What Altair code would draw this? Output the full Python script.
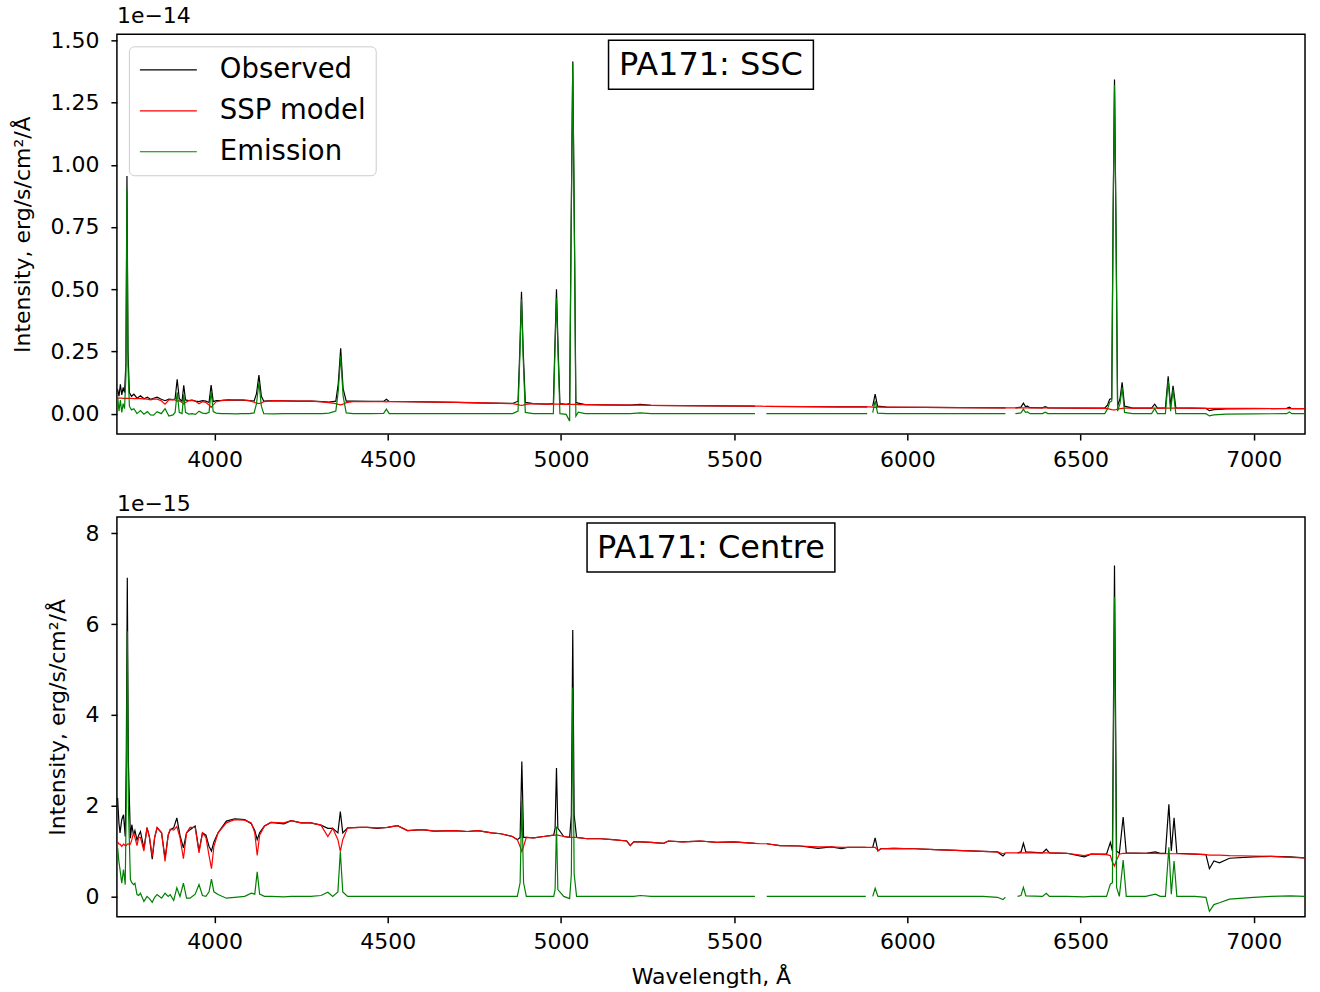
import altair as alt
import pandas as pd

# ---------------- data (top panel, units of 1e-14) ----------------
W_TOP = [3720, 3724, 3728, 3732, 3736, 3740, 3744, 3747, 3750, 3754, 3760, 3767, 3776, 3786,
         3796, 3806, 3815, 3824, 3834, 3846, 3857, 3868, 3880, 3886, 3892, 3898, 3906, 3911,
         3916, 3925, 3935, 3945, 3955, 3965, 3975, 3984, 3990, 3996, 4005, 4020, 4040, 4060,
         4080, 4100, 4114, 4121, 4128, 4135, 4142, 4170, 4200, 4240, 4280, 4310, 4330, 4350,
         4357, 4364, 4371, 4380, 4400, 4450, 4488, 4496, 4504, 4550, 4600, 4650, 4700, 4750,
         4800, 4860, 4876, 4881, 4886, 4891, 4897, 4920, 4960, 4978, 4982, 4987, 4992, 4997,
         5015, 5025, 5029, 5034, 5039, 5043, 5050, 5070, 5120, 5200, 5229, 5260, 5350, 5450,
         5560, 5576, 5593, 5700, 5800, 5884, 5892, 5900, 5907, 5914, 5940, 6050, 6150, 6283,
         6298, 6312, 6328, 6335, 6341, 6347, 6354, 6390, 6398, 6406, 6500, 6570, 6578, 6584,
         6590, 6594, 6598, 6602, 6607, 6614, 6620, 6627, 6650, 6705, 6714, 6722, 6745, 6753,
         6760, 6767, 6775, 6820, 6862, 6872, 6885, 6920, 7000, 7095, 7103, 7110, 7147]
OBS_TOP = [0.098, 0.070, 0.118, 0.075, 0.105, 0.085, 0.200, 0.955, 0.250, 0.085, 0.070, 0.078, 0.062, 0.072,
           0.060, 0.066, 0.058, 0.062, 0.066, 0.058, 0.052, 0.058, 0.056, 0.060, 0.138, 0.060, 0.050, 0.114,
           0.055, 0.052, 0.054, 0.050, 0.048, 0.052, 0.050, 0.045, 0.115, 0.048, 0.052, 0.053, 0.055, 0.054,
           0.054, 0.052, 0.050, 0.080, 0.155, 0.070, 0.050, 0.052, 0.051, 0.050, 0.050, 0.048, 0.046, 0.050,
           0.120, 0.263, 0.100, 0.050, 0.050, 0.049, 0.049, 0.058, 0.049, 0.048, 0.047, 0.046, 0.045, 0.043,
           0.042, 0.041, 0.050, 0.250, 0.490, 0.250, 0.045, 0.040, 0.038, 0.040, 0.250, 0.500, 0.250, 0.040,
           0.037, 0.040, 0.700, 1.415, 0.700, 0.045, 0.042, 0.036, 0.035, 0.034, 0.037, 0.033, 0.032, 0.031,
           0.030, None, 0.029, 0.028, 0.027, 0.027, None, 0.030, 0.078, 0.030, 0.026, 0.025, 0.024, 0.023,
           None, 0.023, 0.026, 0.042, 0.028, 0.030, 0.024, 0.023, 0.028, 0.023, 0.022, 0.022, 0.035, 0.058,
           0.060, 0.800, 1.343, 0.800, 0.030, 0.060, 0.126, 0.030, 0.022, 0.022, 0.038, 0.022, 0.023, 0.150,
           0.030, 0.112, 0.023, 0.022, 0.021, 0.012, 0.016, 0.019, 0.020, 0.021, 0.026, 0.020, 0.020]
MOD_TOP = [0.062, 0.062, 0.062, 0.062, 0.061, 0.061, 0.061, 0.061, 0.061, 0.061, 0.061, 0.060, 0.060, 0.060,
           0.059, 0.058, 0.055, 0.058, 0.058, 0.052, 0.038, 0.055, 0.056, 0.055, 0.050, 0.052, 0.045, 0.038,
           0.045, 0.052, 0.053, 0.050, 0.040, 0.048, 0.045, 0.035, 0.025, 0.035, 0.048, 0.052, 0.054, 0.055,
           0.055, 0.052, 0.046, 0.042, 0.040, 0.043, 0.048, 0.052, 0.051, 0.050, 0.050, 0.047, 0.044, 0.040,
           0.037, 0.035, 0.038, 0.044, 0.048, 0.048, 0.048, 0.047, 0.048, 0.048, 0.047, 0.046, 0.045, 0.044,
           0.042, 0.040, 0.036, 0.034, 0.033, 0.034, 0.037, 0.040, 0.038, 0.038, 0.038, 0.038, 0.038, 0.037,
           0.037, 0.037, 0.037, 0.037, 0.037, 0.037, 0.036, 0.036, 0.035, 0.034, 0.034, 0.033, 0.032, 0.031,
           0.030, 0.030, 0.029, 0.028, 0.027, 0.027, 0.027, 0.026, 0.025, 0.026, 0.026, 0.025, 0.024, 0.023,
           0.023, 0.023, 0.023, 0.023, 0.023, 0.023, 0.023, 0.023, 0.023, 0.023, 0.022, 0.021, 0.020, 0.018,
           0.016, 0.015, 0.015, 0.016, 0.018, 0.020, 0.021, 0.022, 0.022, 0.022, 0.022, 0.022, 0.022, 0.022,
           0.022, 0.022, 0.022, 0.022, 0.021, 0.021, 0.021, 0.021, 0.021, 0.020, 0.020, 0.020, 0.020]
EMI_TOP = [0.070, 0.010, 0.055, 0.005, 0.040, 0.020, 0.150, 0.900, 0.190, 0.030, 0.015, 0.020, 0.000, 0.012,
           -0.002, 0.008, -0.005, -0.006, 0.008, 0.000, 0.020, -0.010, -0.005, 0.005, 0.086, 0.005, 0.000, 0.078,
           0.005, -0.002, 0.000, -0.003, 0.010, 0.002, 0.000, 0.005, 0.090, 0.008, 0.002, 0.000, 0.000, -0.001,
           0.000, 0.000, 0.003, 0.040, 0.126, 0.030, 0.000, -0.001, 0.000, 0.000, 0.000, 0.000, 0.002, 0.010,
           0.090, 0.232, 0.070, 0.003, 0.000, 0.000, 0.001, 0.018, 0.000, 0.000, 0.000, 0.000, 0.000, 0.000,
           0.000, 0.000, 0.010, 0.220, 0.460, 0.220, 0.005, 0.000, 0.000, 0.000, 0.220, 0.465, 0.220, 0.000,
           -0.003, -0.030, 0.680, 1.410, 0.680, -0.010, 0.006, 0.000, 0.000, 0.000, 0.003, 0.000, 0.000, 0.000,
           0.000, None, 0.000, 0.000, 0.000, 0.000, None, 0.004, 0.051, 0.002, 0.000, 0.000, 0.000, 0.000,
           None, 0.000, 0.003, 0.018, 0.005, 0.007, 0.000, 0.000, 0.006, 0.000, 0.000, 0.000, 0.020, 0.046,
           0.050, 0.780, 1.320, 0.780, 0.010, 0.040, 0.106, 0.005, 0.000, 0.000, 0.020, 0.000, 0.000, 0.132,
           0.010, 0.098, 0.000, 0.000, 0.000, -0.009, -0.005, -0.002, -0.001, 0.000, 0.007, 0.000, 0.000]

# ---------------- data (bottom panel, units of 1e-15) ----------------
W_BOT = [3720, 3724, 3727, 3732, 3737, 3742, 3745, 3748, 3751, 3757, 3761, 3766, 3770, 3776,
         3781, 3786, 3796, 3805, 3812, 3820, 3827, 3834, 3847, 3857, 3866, 3872, 3882, 3891,
         3900, 3910, 3919, 3929, 3944, 3955, 3965, 3975, 3984, 3991, 3998, 4010, 4034, 4058,
         4087, 4106, 4116, 4123, 4130, 4144, 4163, 4200, 4221, 4250, 4278, 4307, 4327, 4341,
         4356, 4363, 4370, 4384, 4420, 4442, 4470, 4499, 4528, 4557, 4600, 4634, 4691, 4730,
         4760, 4800, 4826, 4860, 4874, 4882, 4887, 4892, 4900, 4921, 4950, 4979, 4983, 4987,
         4991, 5008, 5025, 5030, 5034, 5038, 5045, 5076, 5114, 5150, 5190, 5200, 5210, 5229,
         5260, 5296, 5310, 5350, 5402, 5450, 5498, 5560, 5576, 5594, 5632, 5690, 5742, 5780,
         5810, 5827, 5880, 5890, 5900, 5907, 5915, 5923, 5960, 6022, 6080, 6120, 6218, 6260,
         6276, 6283, 6300, 6318, 6328, 6335, 6342, 6390, 6401, 6410, 6460, 6511, 6530, 6575,
         6586, 6592, 6598, 6604, 6612, 6623, 6632, 6688, 6716, 6730, 6745, 6755, 6762, 6770,
         6778, 6830, 6862, 6872, 6885, 6901, 6930, 6999, 7050, 7106, 7147]
OBS_BOT = [2.17, 1.60, 1.40, 1.69, 1.80, 1.32, 3.00, 7.02, 3.00, 1.28, 1.58, 1.35, 1.45, 1.24,
           1.35, 1.43, 1.06, 1.51, 1.30, 0.82, 1.30, 1.51, 1.40, 0.84, 1.35, 1.47, 1.51, 1.73,
           1.35, 1.07, 1.40, 1.47, 1.55, 1.00, 1.40, 1.35, 1.10, 1.00, 1.20, 1.40, 1.66, 1.71,
           1.69, 1.60, 1.45, 1.25, 1.40, 1.55, 1.63, 1.60, 1.67, 1.62, 1.62, 1.57, 1.50, 1.50,
           1.40, 1.87, 1.40, 1.51, 1.52, 1.52, 1.50, 1.52, 1.56, 1.45, 1.47, 1.44, 1.45, 1.43,
           1.45, 1.40, 1.38, 1.32, 1.25, 1.30, 2.97, 1.30, 1.30, 1.29, 1.32, 1.35, 1.50, 2.83,
           1.50, 1.32, 1.30, 1.80, 5.87, 1.80, 1.30, 1.27, 1.27, 1.25, 1.22, 1.12, 1.20, 1.20,
           1.19, 1.17, 1.22, 1.20, 1.22, 1.19, 1.20, 1.17, None, 1.16, 1.12, 1.11, 1.06, 1.09,
           1.05, 1.08, 1.08, None, 1.08, 1.29, 1.00, 1.05, 1.06, 1.05, 1.03, 1.02, 0.99, 0.98,
           0.89, 0.95, None, 0.96, 0.98, 1.17, 0.98, 0.96, 1.04, 0.96, 0.95, 0.87, 0.93, 0.93,
           1.19, 1.00, 7.29, 1.00, 0.95, 1.75, 0.96, 0.95, 0.98, 0.95, 0.95, 2.03, 1.00, 1.73,
           0.95, 0.93, 0.92, 0.61, 0.78, 0.74, 0.84, 0.87, 0.88, 0.87, 0.85]
MOD_BOT = [1.20, 1.15, 1.15, 1.10, 1.15, 1.12, 1.12, 1.15, 1.15, 1.15, 1.25, 1.40, 1.30, 1.12,
           1.30, 1.30, 1.00, 1.52, 1.30, 0.88, 1.30, 1.52, 1.40, 0.77, 1.35, 1.48, 1.46, 1.54,
           1.30, 0.83, 1.40, 1.52, 1.52, 0.96, 1.40, 1.30, 0.90, 0.61, 1.10, 1.40, 1.62, 1.69,
           1.68, 1.62, 1.40, 0.90, 1.35, 1.55, 1.63, 1.62, 1.67, 1.62, 1.62, 1.57, 1.32, 1.50,
           1.25, 0.99, 1.25, 1.51, 1.52, 1.52, 1.51, 1.52, 1.56, 1.45, 1.47, 1.44, 1.45, 1.43,
           1.45, 1.40, 1.38, 1.32, 1.25, 1.10, 0.99, 1.10, 1.30, 1.29, 1.32, 1.35, 1.35, 1.35,
           1.35, 1.32, 1.30, 1.30, 1.30, 1.30, 1.30, 1.27, 1.27, 1.25, 1.22, 1.12, 1.20, 1.20,
           1.19, 1.17, 1.22, 1.20, 1.22, 1.19, 1.20, 1.17, 1.16, 1.16, 1.12, 1.11, 1.09, 1.09,
           1.08, 1.08, 1.08, 1.08, 1.08, 1.08, 1.01, 1.05, 1.06, 1.05, 1.03, 1.02, 0.99, 0.98,
           0.94, 0.96, 0.96, 0.96, 0.96, 0.96, 0.96, 0.96, 0.96, 0.96, 0.95, 0.90, 0.93, 0.92,
           0.90, 0.75, 0.67, 0.80, 0.93, 0.95, 0.95, 0.95, 0.95, 0.94, 0.94, 0.94, 0.94, 0.94,
           0.94, 0.93, 0.92, 0.91, 0.91, 0.91, 0.90, 0.89, 0.88, 0.86, 0.85]
EMI_BOT = [1.07, 0.75, 0.59, 0.29, 0.59, 0.26, 2.00, 5.84, 2.00, 0.37, 0.30, 0.26, 0.29, 0.04,
           0.02, 0.07, -0.11, 0.00, -0.05, -0.13, -0.02, 0.04, -0.04, 0.07, 0.00, 0.04, -0.09, 0.19,
           0.00, 0.29, -0.04, -0.04, 0.05, 0.26, 0.02, 0.00, 0.10, 0.38, 0.10, 0.04, -0.04, -0.02,
           0.00, 0.07, 0.05, 0.54, 0.05, 0.00, 0.00, -0.01, 0.00, 0.00, 0.00, 0.02, 0.09, 0.00,
           0.10, 0.99, 0.10, 0.00, 0.00, 0.00, 0.00, 0.00, 0.00, 0.00, 0.00, 0.00, 0.00, 0.00,
           0.00, 0.00, 0.00, 0.00, 0.00, 0.30, 2.10, 0.30, 0.00, 0.00, 0.00, 0.00, 0.15, 1.54,
           0.15, 0.00, -0.05, 0.50, 4.60, 0.50, 0.00, 0.00, 0.00, 0.00, 0.00, 0.00, 0.00, 0.02,
           0.00, 0.00, 0.00, 0.00, 0.00, 0.00, 0.00, 0.00, None, 0.00, 0.00, 0.00, 0.00, 0.00,
           0.00, 0.00, 0.00, None, 0.00, 0.18, 0.00, 0.00, 0.00, 0.00, 0.00, 0.00, 0.00, -0.02,
           -0.07, -0.02, None, 0.00, 0.02, 0.20, 0.01, 0.00, 0.07, 0.00, 0.00, -0.01, 0.00, 0.00,
           0.27, 0.30, 6.60, 0.20, 0.00, 0.80, 0.00, 0.00, 0.05, 0.00, 0.00, 1.08, 0.05, 0.78,
           0.00, 0.00, -0.02, -0.33, -0.18, -0.14, -0.06, -0.02, 0.00, 0.01, 0.00]

SERIES = ["Observed", "SSP model", "Emission"]
COLORS = ["#000000", "#ff0000", "#008000"]
X_TICKS = [4000, 4500, 5000, 5500, 6000, 6500, 7000]
X_DOMAIN = [3718, 7148]
TOP_TICKS = [0.0, 0.25, 0.5, 0.75, 1.0, 1.25, 1.5]
BOT_TICKS = [0, 2, 4, 6, 8]

FONT = "DejaVu Sans"
YTITLE = "Intensity, erg/s/cm²/Å"
PW, PH = 1189, 400


def long_df(w, obs, mod, emi):
    rows = []
    for name, vals in zip(SERIES, [obs, mod, emi]):
        seg = 0
        for x, v in zip(w, vals):
            if v is None:
                seg += 1
                continue
            rows.append({"wl": x, "flux": v, "series": name, "seg": f"{name}-{seg}"})
    return pd.DataFrame(rows)


def panel(df, ydom, yticks, yfmt, offset_txt, box_txt, box_w, show_legend, xtitle):
    if show_legend:
        leg = alt.Legend(title=None, orient="top-left", offset=12, symbolType="stroke",
                         symbolSize=3249, symbolStrokeWidth=1.2, labelFontSize=27.5,
                         labelFont=FONT, labelColor="black", labelOffset=22, padding=10,
                         strokeColor="#cccccc", fillColor="rgba(255,255,255,0.8)",
                         cornerRadius=5, rowPadding=13, clipHeight=27)
    else:
        leg = None
    xaxis = alt.Axis(values=X_TICKS, format="d", title=xtitle) if xtitle else \
        alt.Axis(values=X_TICKS, format="d", title=None)
    enc = dict(
        x=alt.X("wl:Q", scale=alt.Scale(domain=X_DOMAIN, nice=False, zero=False), axis=xaxis),
        y=alt.Y("flux:Q", scale=alt.Scale(domain=ydom, nice=False, zero=False),
                axis=alt.Axis(values=yticks, format=yfmt, title=YTITLE)),
        color=alt.Color("series:N", scale=alt.Scale(domain=SERIES, range=COLORS), legend=leg),
        detail="seg:N",
    )
    base = alt.Chart(df)
    layers = [base.transform_filter(alt.datum.series == s).mark_line(strokeWidth=1.2, clip=True).encode(**enc)
              for s in SERIES]
    cx = PW / 2
    box_df = pd.DataFrame({"t": [box_txt]})
    rect = alt.Chart(box_df).mark_rect(fill="white", stroke="black", strokeWidth=1.5).encode(
        x=alt.value(cx - box_w / 2), x2=alt.value(cx + box_w / 2),
        y=alt.value(6), y2=alt.value(55))
    txt = alt.Chart(box_df).mark_text(font=FONT, fontSize=32, color="black", align="center",
                                      baseline="middle").encode(
        x=alt.value(cx), y=alt.value(31), text="t:N")
    return alt.layer(*layers, rect, txt).properties(
        width=PW, height=PH,
        title=alt.Title(offset_txt, anchor="start", frame="group", fontSize=22, fontWeight="normal",
                        font=FONT, color="black", offset=1))


top = panel(long_df(W_TOP, OBS_TOP, MOD_TOP, EMI_TOP), [-0.082, 1.524], TOP_TICKS, ".2f",
            "1e\u221214", "PA171: SSC", 205, True, None)
bot = panel(long_df(W_BOT, OBS_BOT, MOD_BOT, EMI_BOT), [-0.447, 8.36], BOT_TICKS, "d",
            "1e\u221215", "PA171: Centre", 248, False, "Wavelength, Å")

chart = alt.vconcat(top, bot, spacing=21).resolve_scale(color="independent").configure_view(
    stroke="black", strokeWidth=1.5
).configure_axis(
    grid=False, domain=False, tickColor="black", tickWidth=1.5, tickSize=6,
    labelFont=FONT, labelFontSize=22, labelColor="black",
    titleFont=FONT, titleFontSize=22, titleFontWeight="normal", titleColor="black"
).configure_axisX(
    labelPadding=9, titlePadding=14
).configure_axisY(
    labelPadding=12, titlePadding=15
).configure_title(anchor="start").properties(
    padding={"left": 11, "top": 4, "right": 14, "bottom": 5}, background="white"
)

chart.save("out.html", embed_options={"renderer": "svg", "actions": False})
